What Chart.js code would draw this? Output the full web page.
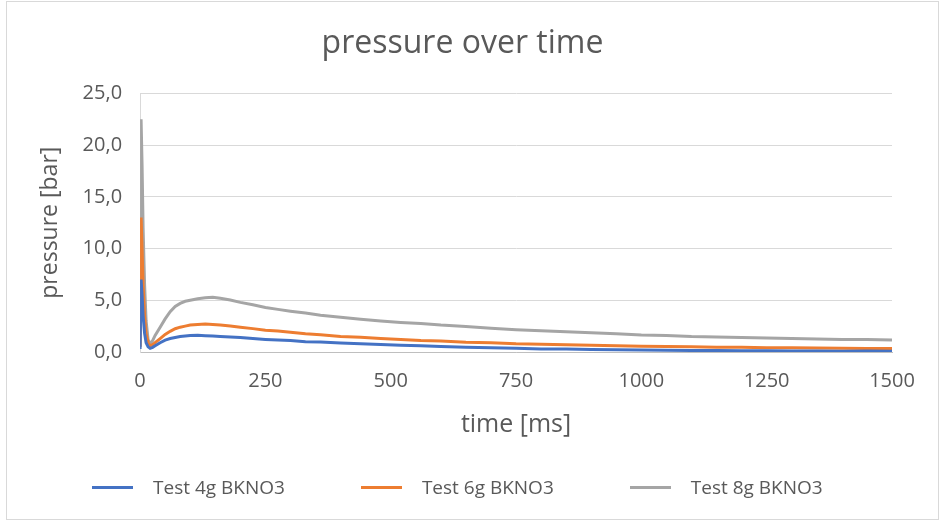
<!DOCTYPE html>
<html>
<head>
<meta charset="utf-8">
<script src="https://cdn.jsdelivr.net/npm/chart.js@4"></script>
<style>
    html, body { margin: 0; padding: 0; background: #fff; }
    #wrap { position: relative; width: 943px; height: 527px; }
    #frame { position: absolute; left: 6px; top: 1px; width: 931px; height: 517px; border: 1px solid #D9D9D9; pointer-events: none; }
    #legend { position: absolute; left: 92px; top: 474px; display: flex; gap: 76px; font-family: "Open Sans", "Noto Sans", sans-serif; font-size: 19px; color: #595959; }
    #legend .item { display: flex; align-items: center; gap: 20px; line-height: 26px; }
    #legend .swatch { width: 41px; height: 3px; }
</style>
</head>
<body>
<div id="wrap">
    <canvas id="pressureChart" width="943" height="527"></canvas>
    <div id="legend"></div>
    <div id="frame"></div>
</div>
<script>
// time in ms, shared by all three tests
const times = [0, 2, 4, 6, 9, 12, 16, 20, 25, 30,
    40, 50, 60, 70, 80, 90, 100, 115, 130, 145,
    160, 180, 200, 225, 250, 275, 300, 330, 360, 400,
    440, 480, 520, 560, 600, 650, 700, 750, 800, 850,
    900, 950, 1000, 1050, 1100, 1150, 1200, 1250, 1300, 1350,
    1400, 1450, 1500];

// pressure in bar
const test4g = [0.3, 7.0, 5.5, 3.5, 1.8, 0.9, 0.5, 0.35, 0.45, 0.6,
    0.9, 1.15, 1.3, 1.4, 1.5, 1.55, 1.6, 1.62, 1.58, 1.55,
    1.5, 1.45, 1.4, 1.3, 1.22, 1.16, 1.1, 1.0, 0.96, 0.88,
    0.8, 0.73, 0.65, 0.6, 0.52, 0.46, 0.4, 0.36, 0.3, 0.28,
    0.24, 0.22, 0.19, 0.18, 0.15, 0.14, 0.12, 0.12, 0.1, 0.09,
    0.08, 0.09, 0.07];

const test6g = [0.5, 13.0, 10.0, 6.5, 3.5, 1.8, 0.9, 0.6, 0.7, 0.9,
    1.3, 1.7, 2.0, 2.25, 2.4, 2.5, 2.6, 2.66, 2.7, 2.66,
    2.6, 2.52, 2.4, 2.26, 2.1, 2.02, 1.9, 1.76, 1.66, 1.5,
    1.42, 1.3, 1.22, 1.1, 1.06, 0.95, 0.9, 0.8, 0.76, 0.7,
    0.66, 0.6, 0.56, 0.52, 0.5, 0.47, 0.46, 0.42, 0.41, 0.38,
    0.37, 0.35, 0.33];

const test8g = [0.5, 22.5, 18.0, 12.0, 6.5, 3.0, 1.2, 0.8, 1.1, 1.6,
    2.4, 3.2, 3.9, 4.4, 4.7, 4.9, 5.0, 5.15, 5.25, 5.3,
    5.2, 5.02, 4.8, 4.56, 4.3, 4.12, 3.95, 3.76, 3.56, 3.35,
    3.16, 3.0, 2.86, 2.76, 2.6, 2.46, 2.3, 2.16, 2.05, 1.96,
    1.85, 1.76, 1.65, 1.6, 1.5, 1.46, 1.4, 1.36, 1.3, 1.26,
    1.2, 1.21, 1.15];

const seriesLabels = ['Test 4g BKNO3', 'Test 6g BKNO3', 'Test 8g BKNO3'];
const seriesColors = ['#4472C4', '#ED7D31', '#A5A5A5'];

const textColor = '#595959';
Chart.defaults.font.family = '"Open Sans", "Noto Sans", sans-serif';
Chart.defaults.color = textColor;

function toPoints(values) {
    return times.map(function (t, i) { return { x: t, y: values[i] }; });
}

const datasets = [test4g, test6g, test8g].map(function (values, i) {
    return {
        label: seriesLabels[i],
        data: toPoints(values),
        borderColor: seriesColors[i],
        backgroundColor: seriesColors[i],
        borderWidth: 3,
        pointRadius: 0,
        showLine: true,
        tension: 0,
    };
});

// legend as html so the wide spacing of the original can be kept
const htmlLegend = {
    id: 'htmlLegend',
    afterUpdate(chart) {
        const box = document.getElementById('legend');
        box.innerHTML = '';
        chart.data.datasets.forEach(function (ds) {
            const item = document.createElement('div');
            item.className = 'item';
            const swatch = document.createElement('span');
            swatch.className = 'swatch';
            swatch.style.background = ds.borderColor;
            const text = document.createElement('span');
            text.textContent = ds.label;
            item.appendChild(swatch);
            item.appendChild(text);
            box.appendChild(item);
        });
    },
};

new Chart(document.getElementById('pressureChart'), {
    type: 'scatter',
    data: { datasets: datasets },
    plugins: [htmlLegend],
    options: {
        responsive: false,
        animation: false,
        layout: { padding: { left: 33, right: 51, top: 20, bottom: 87 } },
        plugins: {
            title: {
                display: true,
                text: 'pressure over time',
                font: { size: 32, weight: 'normal' },
                color: textColor,
                padding: { top: 5, bottom: 30 },
            },
            legend: { display: false },
            tooltip: { enabled: false },
        },
        scales: {
            x: {
                type: 'linear',
                min: 0,
                max: 1500,
                ticks: {
                    stepSize: 250,
                    font: { size: 20 },
                    color: textColor,
                    padding: 17,
                    callback: function (v) { return String(v); },
                },
                grid: { display: false, drawTicks: false },
                border: { color: '#BFBFBF', width: 1 },
                title: { display: true, text: 'time [ms]', font: { size: 25 }, color: textColor, padding: { top: 0, bottom: 0 } },
            },
            y: {
                min: 0,
                max: 25,
                ticks: {
                    stepSize: 5,
                    font: { size: 20 },
                    color: textColor,
                    padding: 18,
                    callback: function (v) { return v.toFixed(1).replace('.', ','); },
                },
                grid: { color: '#D9D9D9', drawTicks: false },
                border: { color: '#D9D9D9', width: 1 },
                title: { display: true, text: 'pressure [bar]', font: { size: 23 }, color: textColor, padding: { top: 4, bottom: 0 } },
            },
        },
    },
});
</script>
</body>
</html>
